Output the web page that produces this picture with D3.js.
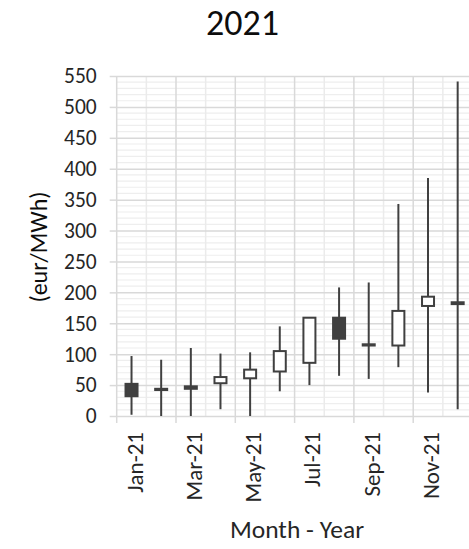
<!DOCTYPE html>
<html>
<head>
<meta charset="utf-8">
<script src="https://cdn.jsdelivr.net/npm/d3@7"></script>
<style>
  html, body { margin: 0; padding: 0; background: #ffffff; }
  svg { display: block; font-family: Calibri, Carlito, Lato, "Open Sans", sans-serif; }
</style>
</head>
<body>
<svg id="chart" width="469" height="549"></svg>
<script>
// Monthly day-ahead price range, 2021 (eur/MWh)
const months = ["Jan-21", "Feb-21", "Mar-21", "Apr-21", "May-21", "Jun-21",
                "Jul-21", "Aug-21", "Sep-21", "Oct-21", "Nov-21", "Dec-21"];
const openVals  = [52, 44, 48, 53, 61, 72, 86, 159, 116, 114, 178, 184];
const highVals  = [97, 91, 110, 101, 103, 145, 159, 208, 216, 343, 385, 541];
const lowVals   = [2, 0, 0, 11, 0, 40, 50, 65, 60, 79, 38, 11];
const closeVals = [32, 42, 44, 63, 75, 105, 159, 125, 114, 170, 193, 181];
const yTicks = [0, 50, 100, 150, 200, 250, 300, 350, 400, 450, 500, 550];
const xLabelMonths = ["Jan-21", "Mar-21", "May-21", "Jul-21", "Sep-21", "Nov-21"];

const svg = d3.select("#chart");
const W = 469;
const plotLeft = 116.7, plotTop = 76, plotBottom = 416;
const bandW = 29.65;

const x = d3.scaleBand().domain(months).range([plotLeft, plotLeft + bandW * months.length]).padding(0);
const y = d3.scaleLinear().domain([0, 550]).range([plotBottom, plotTop]);

const minorColor = "#eeeeee", majorColor = "#d9d9d9", ink = "#404040";
const fontStack = "Calibri, Carlito, Lato, 'Open Sans', sans-serif";

// minor horizontal gridlines every 10
const grid = svg.append("g");
grid.selectAll("line.hmin")
  .data(d3.range(10, 550, 10).filter(v => v % 50 !== 0))
  .join("line")
  .attr("x1", plotLeft).attr("x2", W)
  .attr("y1", d => y(d)).attr("y2", d => y(d))
  .attr("stroke", minorColor).attr("stroke-width", 1.2);

// vertical gridlines at month boundaries (major every second month)
grid.selectAll("line.v")
  .data(months.map((m, i) => i))
  .join("line")
  .attr("x1", i => x(months[i])).attr("x2", i => x(months[i]))
  .attr("y1", plotTop).attr("y2", plotBottom)
  .attr("stroke", i => i % 2 === 0 ? majorColor : "#ebebeb")
  .attr("stroke-width", 1.5);

// major horizontal gridlines + y axis labels
const yAxis = svg.append("g")
  .attr("transform", `translate(${plotLeft},0)`)
  .call(d3.axisLeft(y).tickValues(yTicks).tickSize(7).tickPadding(13).tickFormat(d3.format("d")));
yAxis.select(".domain").remove();
yAxis.selectAll(".tick line").attr("stroke", majorColor).attr("stroke-width", 1.5);
yAxis.selectAll(".tick").append("line")
  .attr("x1", 0).attr("x2", W - plotLeft)
  .attr("stroke", majorColor).attr("stroke-width", 1.5);
yAxis.selectAll(".tick text")
  .attr("fill", "#262626").style("font-size", "21.5px")
  .style("font-family", fontStack);

// tick marks below the category axis at major boundaries
svg.append("g").selectAll("line")
  .data(months.filter((m, i) => i % 2 === 0))
  .join("line")
  .attr("x1", d => x(d)).attr("x2", d => x(d))
  .attr("y1", plotBottom).attr("y2", plotBottom + 7)
  .attr("stroke", majorColor).attr("stroke-width", 1.5);

// x axis labels
const xAxis = svg.append("g")
  .attr("transform", `translate(3,${plotBottom})`)
  .call(d3.axisBottom(x).tickValues(xLabelMonths).tickSize(0));
xAxis.select(".domain").remove();
xAxis.selectAll(".tick text")
  .attr("transform", "rotate(-90)")
  .attr("text-anchor", "end")
  .attr("x", -16).attr("y", 0).attr("dy", "0.35em")
  .attr("fill", "#262626").style("font-size", "23px")
  .style("font-family", fontStack);

// candlesticks
const data = months.map((m, i) => ({
  m, o: openVals[i], h: highVals[i], l: lowVals[i], c: closeVals[i]
}));
const cx = d => x(d.m) + x.bandwidth() / 2;
const bodyW = 12;
const candles = svg.append("g");
candles.selectAll("line.wick").data(data).join("line")
  .attr("x1", cx).attr("x2", cx)
  .attr("y1", d => y(d.h)).attr("y2", d => y(d.l))
  .attr("stroke", ink).attr("stroke-width", 2);
candles.selectAll("rect.body").data(data).join("rect")
  .attr("x", d => cx(d) - bodyW / 2)
  .attr("width", bodyW)
  .attr("y", d => y(Math.max(d.o, d.c)))
  .attr("height", d => Math.max(0.5, Math.abs(y(d.o) - y(d.c))))
  .attr("fill", d => d.c >= d.o ? "#ffffff" : ink)
  .attr("stroke", ink).attr("stroke-width", 2);

// titles
svg.append("text")
  .attr("x", 242.5).attr("y", 35)
  .attr("text-anchor", "middle")
  .attr("fill", "#0d0d0d").style("font-size", "36px")
  .text("2021");

svg.append("text")
  .attr("transform", "translate(47,247) rotate(-90)")
  .attr("text-anchor", "middle")
  .attr("fill", "#0d0d0d").style("font-size", "24px")
  .text("(eur/MWh)");

svg.append("text")
  .attr("x", 297).attr("y", 538)
  .attr("text-anchor", "middle")
  .attr("fill", "#262626").style("font-size", "25.5px")
  .text("Month - Year");
</script>
</body>
</html>
